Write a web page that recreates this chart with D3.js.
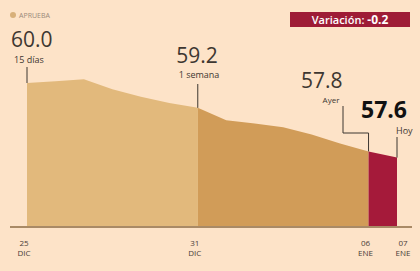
<!DOCTYPE html>
<html>
<head>
<meta charset="utf-8">
<script src="https://cdn.jsdelivr.net/npm/d3@7"></script>
<style>
  html, body { margin: 0; padding: 0; background: #fde3c8; }
  svg { display: block; font-family: "Open Sans", "DejaVu Sans", sans-serif; }
</style>
</head>
<body>
<div id="chart"></div>
<script>
// approval series, one value per day
const dates = ['2023-12-25','2023-12-26','2023-12-27','2023-12-28','2023-12-29','2023-12-30','2023-12-31',
  '2024-01-01','2024-01-02','2024-01-03','2024-01-04','2024-01-05','2024-01-06','2024-01-07'];
const values = [60.0, 60.06, 60.12, 59.8, 59.56, 59.36, 59.2, 58.8, 58.7, 58.58, 58.34, 58.05, 57.8, 57.6];
const tickDates = ['2023-12-25','2023-12-31','2024-01-06','2024-01-07'];
const tickDay = ['25','31','06','07'];
const tickMonth = ['DIC','DIC','ENE','ENE'];
const notes = [
  { date: '2023-12-25', value: 60.0, label: '60.0', sub: '15 días' },
  { date: '2023-12-31', value: 59.2, label: '59.2', sub: '1 semana' },
  { date: '2024-01-06', value: 57.8, label: '57.8', sub: 'Ayer' },
  { date: '2024-01-07', value: 57.6, label: '57.6', sub: 'Hoy' }
];
const variation = '-0.2';

const width = 420, height = 271;
const parse = d3.timeParse('%Y-%m-%d');
const data = dates.map((d, i) => ({ date: parse(d), value: values[i] }));

const svg = d3.select('#chart').append('svg')
  .attr('width', width)
  .attr('height', height);

const x = d3.scaleTime()
  .domain([parse(dates[0]), parse(dates[dates.length - 1])])
  .range([27, 397]);

const y = d3.scaleLinear()
  .domain([55.4, 60])
  .range([226, 83]);

const area = d3.area()
  .x(d => x(d.date))
  .y0(y(55.4))
  .y1(d => y(d.value));

// three shaded stretches: 15 days -> 1 week -> yesterday -> today
const segments = [
  { from: 0, to: 6, fill: '#e2b97c' },
  { from: 6, to: 12, fill: '#d19c58' },
  { from: 12, to: 13, fill: '#a51a3a' }
];
svg.append('g').selectAll('path')
  .data(segments)
  .enter().append('path')
  .attr('d', s => area(data.slice(s.from, s.to + 1)))
  .attr('fill', s => s.fill);

// baseline
svg.append('line')
  .attr('x1', 10).attr('x2', 412)
  .attr('y1', y(55.4) + 1).attr('y2', y(55.4) + 1)
  .attr('stroke', '#a98a66')
  .attr('stroke-width', 2);

// date labels
const ticks = svg.append('g').selectAll('g')
  .data(tickDates)
  .enter().append('g')
  .attr('transform', (d, i) => `translate(${x(parse(d)) + (i === 3 ? 6 : -3)},0)`)
  .attr('fill', '#4a4038')
  .attr('font-size', 8)
  .attr('text-anchor', 'middle');
ticks.append('text').attr('y', 246).text((d, i) => tickDay[i]);
ticks.append('text').attr('y', 256).text((d, i) => tickMonth[i]);

// annotations
const ink = '#3d3731';
const n0 = notes[0], n1 = notes[1], n2 = notes[2], n3 = notes[3];

svg.append('line')
  .attr('x1', x(parse(n0.date))).attr('x2', x(parse(n0.date)))
  .attr('y1', 67).attr('y2', y(n0.value))
  .attr('stroke', ink).attr('stroke-width', 1);
svg.append('text').attr('x', 11).attr('y', 47)
  .attr('font-size', 21).attr('fill', ink).text(n0.label);
svg.append('text').attr('x', 14).attr('y', 63)
  .attr('font-size', 9).attr('fill', ink).text(n0.sub);

svg.append('line')
  .attr('x1', x(parse(n1.date))).attr('x2', x(parse(n1.date)))
  .attr('y1', 84).attr('y2', y(n1.value))
  .attr('stroke', ink).attr('stroke-width', 1);
svg.append('text').attr('x', 197).attr('y', 63)
  .attr('text-anchor', 'middle')
  .attr('font-size', 21).attr('fill', ink).text(n1.label);
svg.append('text').attr('x', 199).attr('y', 78)
  .attr('text-anchor', 'middle')
  .attr('font-size', 9).attr('fill', ink).text(n1.sub);

const xa = x(parse(n2.date));
svg.append('path')
  .attr('d', `M343,106V133H${xa}V${y(n2.value)}`)
  .attr('fill', 'none').attr('stroke', ink).attr('stroke-width', 1);
svg.append('text').attr('x', 301).attr('y', 88)
  .attr('font-size', 21).attr('fill', ink).text(n2.label);
svg.append('text').attr('x', 331).attr('y', 103)
  .attr('text-anchor', 'middle')
  .attr('font-size', 8).attr('fill', ink).text(n2.sub);

const xh = x(parse(n3.date));
svg.append('line')
  .attr('x1', xh).attr('x2', xh)
  .attr('y1', 137).attr('y2', y(n3.value))
  .attr('stroke', ink).attr('stroke-width', 1);
svg.append('text').attr('x', 361).attr('y', 118)
  .attr('font-size', 23).attr('font-weight', 'bold').attr('fill', '#111').text(n3.label);
svg.append('text').attr('x', 396).attr('y', 134)
  .attr('font-size', 9).attr('fill', ink).text(n3.sub);

// legend
svg.append('circle').attr('cx', 13).attr('cy', 15).attr('r', 3).attr('fill', '#d8b07a');
svg.append('text').attr('x', 19).attr('y', 18)
  .attr('font-size', 7).attr('fill', '#9a8a7a').text('APRUEBA');

// variation badge
svg.append('rect')
  .attr('x', 290).attr('y', 12).attr('width', 120).attr('height', 15)
  .attr('fill', '#9e1c36');
const vt = svg.append('text').attr('x', 350).attr('y', 24)
  .attr('text-anchor', 'middle').attr('fill', '#fff').attr('font-size', 11);
vt.append('tspan').attr('font-weight', 600).text('Variación: ');
vt.append('tspan').attr('font-weight', 'bold').attr('font-size', 12).text(variation);
</script>
</body>
</html>
